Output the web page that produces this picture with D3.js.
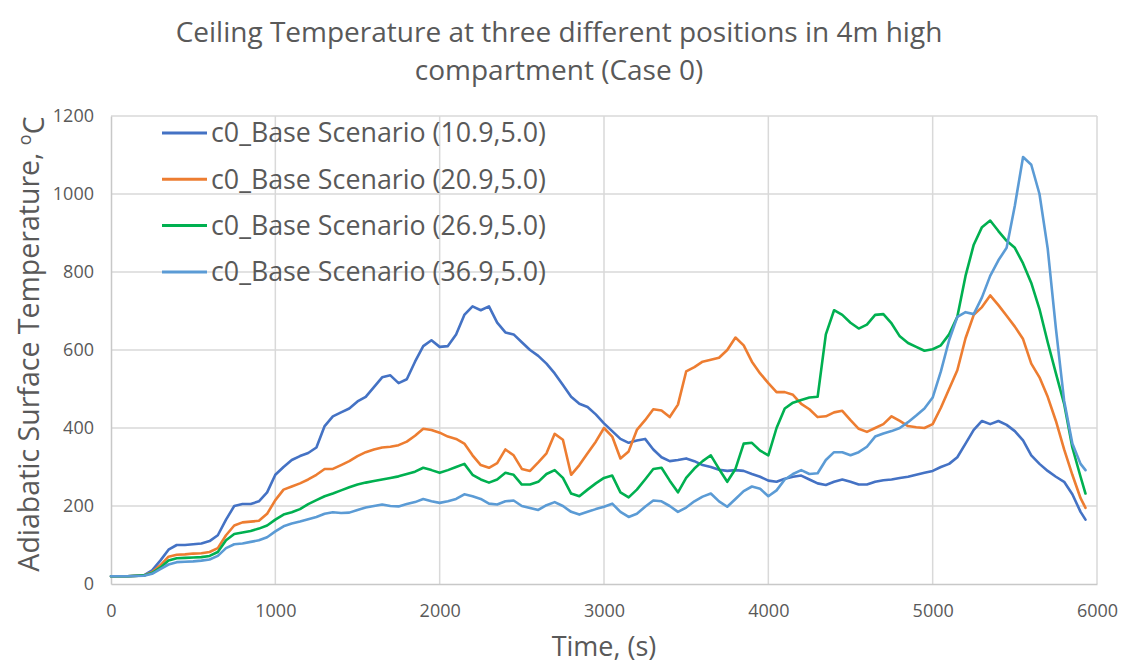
<!DOCTYPE html>
<html>
<head>
<meta charset="utf-8">
<script src="https://cdn.jsdelivr.net/npm/d3@7"></script>
<style>
  html, body { margin: 0; padding: 0; background: #ffffff; }
  svg { display: block; }
</style>
</head>
<body>
<svg id="chart" width="1124" height="666"></svg>
<script>
// Time axis samples (s)
const times = [0,100,200,250,300,350,400,450,500,550,600,650,700,750,800,850,900,950,
  1000,1050,1100,1150,1200,1250,1300,1350,1400,1450,1500,1550,1600,1650,1700,1750,1800,1850,1900,1950,
  2000,2050,2100,2150,2200,2250,2300,2350,2400,2450,2500,2550,2600,2650,2700,2750,2800,2850,2900,2950,
  3000,3050,3100,3150,3200,3250,3300,3350,3400,3450,3500,3550,3600,3650,3700,3750,3800,3850,3900,3950,
  4000,4050,4100,4150,4200,4250,4300,4350,4400,4450,4500,4550,4600,4650,4700,4750,4800,4850,4900,4950,
  5000,5050,5100,5150,5200,5250,5300,5350,5400,5450,5500,5550,5600,5650,5700,5750,5800,5850,5900,5930];

// Adiabatic surface temperature (°C) at each position
const pos109 = [20,20,22,35,60,88,100,100,102,104,110,125,165,200,205,205,212,235,
  280,300,318,328,336,350,405,430,440,450,468,480,505,530,535,515,525,570,610,625,
  608,610,640,690,712,702,712,670,645,640,620,600,585,565,540,510,480,462,454,435,
  412,392,372,362,368,372,345,325,315,318,322,315,305,300,293,290,292,290,282,275,
  265,262,270,275,278,268,258,254,262,268,262,255,255,262,266,268,272,275,280,285,
  290,300,308,325,360,395,418,410,418,408,392,368,330,308,290,275,262,230,185,165];

const pos209 = [20,20,22,30,48,70,75,76,78,79,82,92,125,150,158,160,162,180,
  215,242,250,258,268,280,295,295,305,315,328,338,345,350,352,356,365,380,398,395,
  388,378,372,360,330,305,298,310,345,330,295,290,312,335,385,370,280,305,335,365,
  400,378,322,340,395,420,448,445,428,460,545,556,570,575,580,600,632,612,570,540,
  515,492,492,485,462,448,428,430,440,444,420,398,390,400,410,430,418,405,402,400,
  410,452,500,548,630,690,710,740,715,688,660,628,565,530,480,418,345,280,220,195];

const pos269 = [20,20,22,28,42,60,66,67,68,69,72,82,112,128,132,136,142,150,
  165,178,184,192,205,215,225,232,240,248,255,260,264,268,272,276,282,288,298,292,
  285,292,300,308,280,268,260,268,285,280,255,255,262,282,292,272,232,225,242,258,
  272,278,235,222,242,268,295,298,265,235,272,296,315,330,295,262,295,360,362,342,
  330,400,450,465,472,478,480,640,702,690,670,655,665,690,692,668,635,618,608,598,
  602,612,640,685,790,870,915,932,905,880,862,822,772,705,620,540,462,350,275,232];

const pos369 = [20,20,21,26,38,50,56,57,58,60,63,72,92,102,104,108,112,120,
  135,148,155,160,166,172,180,184,182,183,190,196,200,204,200,199,205,210,218,212,
  208,212,218,230,225,218,206,204,212,214,200,195,190,202,210,200,185,178,185,192,
  198,206,185,172,180,198,214,212,200,185,196,212,224,232,212,198,218,238,250,244,
  225,240,268,282,292,282,284,318,338,338,330,338,352,378,386,392,400,415,432,450,
  478,545,625,685,697,692,735,790,830,862,970,1095,1075,1000,860,655,470,360,308,292];

const seriesNames = ["c0_Base Scenario (10.9,5.0)", "c0_Base Scenario (20.9,5.0)",
  "c0_Base Scenario (26.9,5.0)", "c0_Base Scenario (36.9,5.0)"];
const seriesColors = ["#4472C4", "#ED7D31", "#00B050", "#5B9BD5"];
const xTicks = [0,1000,2000,3000,4000,5000,6000];
const yTicks = [0,200,400,600,800,1000,1200];
const titleLines = ["Ceiling Temperature at three different positions in 4m high", "compartment (Case 0)"];

const series = [pos109, pos209, pos269, pos369].map((vals, i) => ({
  name: seriesNames[i],
  color: seriesColors[i],
  points: times.map((t, j) => ({ t, v: vals[j] }))
}));

const svg = d3.select("#chart");
const font = "'Open Sans', 'Noto Sans', sans-serif";
const textColor = "#595959";

const plot = { left: 111, right: 1097, top: 116, bottom: 584 };
const x = d3.scaleLinear().domain([0, 6000]).range([plot.left, plot.right]);
const y = d3.scaleLinear().domain([0, 1200]).range([plot.bottom, plot.top]);

// gridlines
const grid = svg.append("g");
grid.selectAll("line.h").data(yTicks.filter(d => d > 0)).join("line")
  .attr("x1", plot.left).attr("x2", plot.right)
  .attr("y1", d => y(d)).attr("y2", d => y(d))
  .attr("stroke", "#d9d9d9").attr("stroke-width", 1.5);
grid.selectAll("line.v").data(xTicks.filter(d => d > 0)).join("line")
  .attr("y1", plot.top).attr("y2", plot.bottom)
  .attr("x1", d => x(d)).attr("x2", d => x(d))
  .attr("stroke", "#d9d9d9").attr("stroke-width", 1.5);

// axes
const xAxis = svg.append("g").attr("transform", `translate(0,${plot.bottom})`)
  .call(d3.axisBottom(x).tickValues(xTicks).tickSize(0).tickPadding(20).tickFormat(d3.format("d")));
const yAxis = svg.append("g").attr("transform", `translate(${plot.left},0)`)
  .call(d3.axisLeft(y).tickValues(yTicks).tickSize(0).tickPadding(17).tickFormat(d3.format("d")));
[xAxis, yAxis].forEach(a => {
  a.select(".domain").attr("stroke", "#c8c8c8").attr("stroke-width", 1.5);
  a.selectAll("text").attr("fill", textColor).style("font-family", font).style("font-size", "18px");
});

// series lines
const line = d3.line().x(d => x(d.t)).y(d => y(d.v)).curve(d3.curveLinear);
svg.append("g").selectAll("path").data(series).join("path")
  .attr("d", d => line(d.points))
  .attr("fill", "none")
  .attr("stroke", d => d.color)
  .attr("stroke-width", 2.6)
  .attr("stroke-linejoin", "round")
  .attr("stroke-linecap", "round");

// legend
const legend = svg.append("g");
const rows = legend.selectAll("g").data(series).join("g")
  .attr("transform", (d, i) => `translate(162,${133 + i * 46.3})`);
rows.append("line").attr("x1", 0).attr("x2", 45).attr("y1", 0).attr("y2", 0)
  .attr("stroke", d => d.color).attr("stroke-width", 3);
rows.append("text").attr("x", 49).attr("y", 0).attr("dy", "0.35em")
  .attr("fill", textColor).style("font-family", font).style("font-size", "26.8px")
  .text(d => d.name);

// title
svg.append("g").selectAll("text").data(titleLines).join("text")
  .attr("x", 559).attr("y", (d, i) => 42 + i * 38)
  .attr("text-anchor", "middle")
  .attr("fill", textColor).style("font-family", font).style("font-size", "28px")
  .text(d => d);

// axis titles
svg.append("text")
  .attr("x", 604).attr("y", 656).attr("text-anchor", "middle")
  .attr("fill", textColor).style("font-family", font).style("font-size", "27px")
  .text("Time, (s)");

const yTitle = svg.append("text")
  .attr("transform", `translate(39,344) rotate(-90)`)
  .attr("text-anchor", "middle")
  .attr("fill", textColor).style("font-family", font).style("font-size", "28.5px");
yTitle.append("tspan").text("Adiabatic Surface Temperature, ");
yTitle.append("tspan").attr("dy", "-0.45em").style("font-size", "18px").text("o");
yTitle.append("tspan").attr("dy", "0.45em").text("C");
</script>
</body>
</html>
